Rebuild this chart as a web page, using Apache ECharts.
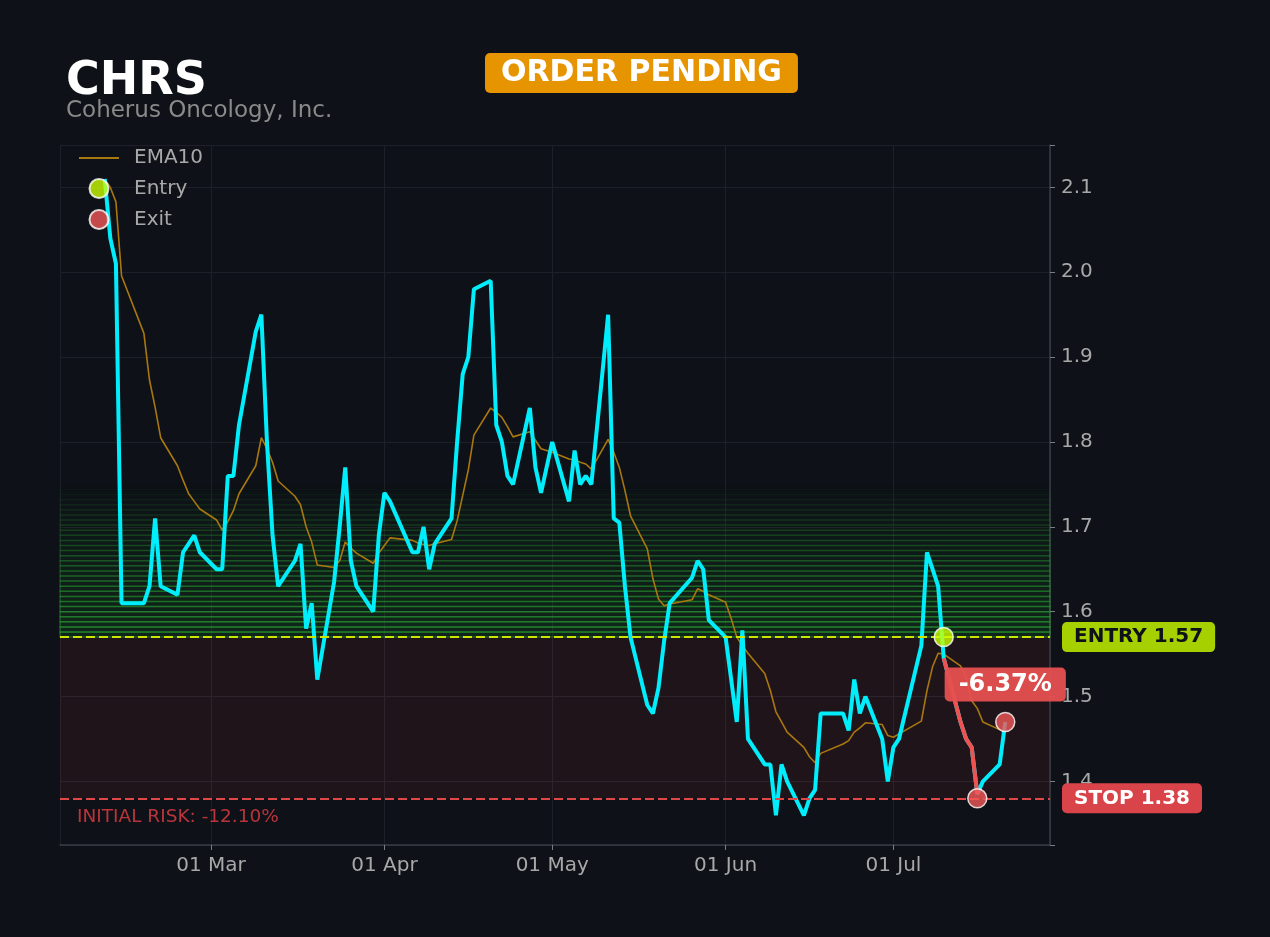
<!DOCTYPE html>
<html>
<head>
<meta charset="utf-8">
<script src="https://cdn.jsdelivr.net/npm/echarts@6/dist/echarts.min.js"></script>
<style>
    html, body { margin: 0; padding: 0; background: #0e1117; }
    #chart { width: 1270px; height: 937px; }
</style>
</head>
<body>
<div id="chart"></div>
<script>
// trading days (2026)
const dates = [
    '2026-02-10', '2026-02-11', '2026-02-12', '2026-02-13', '2026-02-17', '2026-02-18', '2026-02-19',
    '2026-02-20', '2026-02-23', '2026-02-24', '2026-02-25', '2026-02-26', '2026-02-27',
    '2026-03-02', '2026-03-03', '2026-03-04', '2026-03-05', '2026-03-06', '2026-03-09', '2026-03-10',
    '2026-03-11', '2026-03-12', '2026-03-13', '2026-03-16', '2026-03-17', '2026-03-18', '2026-03-19',
    '2026-03-20', '2026-03-23', '2026-03-24', '2026-03-25', '2026-03-26', '2026-03-27', '2026-03-30',
    '2026-03-31',
    '2026-04-01', '2026-04-02', '2026-04-06', '2026-04-07', '2026-04-08', '2026-04-09', '2026-04-10',
    '2026-04-13', '2026-04-14', '2026-04-15', '2026-04-16', '2026-04-17', '2026-04-20', '2026-04-21',
    '2026-04-22', '2026-04-23', '2026-04-24', '2026-04-27', '2026-04-28', '2026-04-29', '2026-04-30',
    '2026-05-01', '2026-05-04', '2026-05-05', '2026-05-06', '2026-05-07', '2026-05-08', '2026-05-11',
    '2026-05-12', '2026-05-13', '2026-05-14', '2026-05-15', '2026-05-18', '2026-05-19', '2026-05-20',
    '2026-05-21', '2026-05-22', '2026-05-26', '2026-05-27', '2026-05-28', '2026-05-29',
    '2026-06-01', '2026-06-02', '2026-06-03', '2026-06-04', '2026-06-05', '2026-06-08', '2026-06-09',
    '2026-06-10', '2026-06-11', '2026-06-12', '2026-06-15', '2026-06-16', '2026-06-17', '2026-06-18',
    '2026-06-22', '2026-06-23', '2026-06-24', '2026-06-25', '2026-06-26', '2026-06-29', '2026-06-30',
    '2026-07-01', '2026-07-02', '2026-07-06', '2026-07-07', '2026-07-08', '2026-07-09', '2026-07-10',
    '2026-07-13', '2026-07-14', '2026-07-15', '2026-07-16', '2026-07-17', '2026-07-20', '2026-07-21'
];

const closes = [
    2.11, 2.04, 2.01, 1.61, 1.61, 1.63, 1.71, 1.63, 1.62, 1.67, 1.68, 1.69, 1.67,
    1.65, 1.65, 1.76, 1.76, 1.82, 1.93, 1.95, 1.80, 1.69, 1.63, 1.66, 1.68, 1.58, 1.61,
    1.52, 1.635, 1.70, 1.77, 1.66, 1.63, 1.60, 1.69,
    1.74, 1.73, 1.67, 1.67, 1.70, 1.65, 1.68, 1.71, 1.80, 1.88, 1.90, 1.98, 1.99, 1.82,
    1.80, 1.76, 1.75, 1.84, 1.77, 1.74, 1.77,
    1.80, 1.73, 1.79, 1.75, 1.76, 1.75, 1.95, 1.71, 1.705, 1.63, 1.57, 1.49, 1.48, 1.51,
    1.565, 1.61, 1.64, 1.66, 1.65, 1.59,
    1.57, 1.52, 1.47, 1.578, 1.45, 1.42, 1.42, 1.36, 1.42, 1.40, 1.36, 1.38, 1.39, 1.48,
    1.48, 1.46, 1.52, 1.48, 1.50, 1.45, 1.40,
    1.44, 1.45, 1.56, 1.67, 1.65, 1.63, 1.545, 1.47, 1.45, 1.44, 1.385, 1.40, 1.42, 1.47
];

const ema10 = [
    2.11, 2.10, 2.083, 1.996, 1.928, 1.873, 1.841, 1.805, 1.772, 1.755, 1.739, 1.730, 1.721,
    1.708, 1.696, 1.706, 1.719, 1.739, 1.772, 1.805, 1.792, 1.776, 1.754, 1.736, 1.726, 1.700, 1.682,
    1.655, 1.652, 1.660, 1.682, 1.675, 1.669, 1.657, 1.669,
    1.678, 1.687, 1.684, 1.681, 1.679, 1.678, 1.680, 1.685, 1.707, 1.737, 1.767, 1.808, 1.840, 1.835,
    1.829, 1.818, 1.806, 1.812, 1.802, 1.792, 1.790,
    1.788, 1.780, 1.779, 1.776, 1.774, 1.768, 1.803, 1.788, 1.770, 1.743, 1.713, 1.674, 1.639, 1.615,
    1.607, 1.609, 1.614, 1.627, 1.624, 1.620,
    1.611, 1.592, 1.570, 1.560, 1.551, 1.527, 1.507, 1.482, 1.470, 1.458, 1.440, 1.429, 1.422, 1.433,
    1.444, 1.448, 1.458, 1.463, 1.469, 1.467, 1.454,
    1.452, 1.456, 1.471, 1.507, 1.535, 1.551, 1.550, 1.536, 1.523, 1.495, 1.486, 1.470, 1.461, 1.460
];

const entryDate = '2026-07-10';
const entryPrice = 1.57;
const stopPrice = 1.38;
const exitDates = ['2026-07-16', '2026-07-21'];
const exitPrices = [1.38, 1.47];

const monthNames = ['Jan', 'Feb', 'Mar', 'Apr', 'May', 'Jun', 'Jul', 'Aug', 'Sep', 'Oct', 'Nov', 'Dec'];

function pct(a, b) {
    return ((a / b - 1) * 100).toFixed(2) + '%';
}

const priceData = dates.map(function (d, i) { return [d, closes[i]]; });
const emaData = dates.map(function (d, i) { return [d, ema10[i]]; });
const tradeStart = dates.indexOf(entryDate);
const tradeEnd = dates.indexOf(exitDates[0]);
const tradeData = priceData.slice(tradeStart, tradeEnd + 1);
const lastExit = exitPrices[exitPrices.length - 1];

// faded green bands above the entry
const greenBands = [];
const bandCount = 30;
const bandStep = 0.006;
for (let i = 0; i < bandCount; i++) {
    const a = 0.3 * (1 - i / bandCount);
    greenBands.push([
        {
            yAxis: entryPrice + i * bandStep,
            itemStyle: {
                color: 'rgba(30, 135, 40, ' + (a * 0.6).toFixed(3) + ')',
                borderColor: 'rgba(45, 180, 55, ' + (a * 1.4).toFixed(3) + ')',
                borderWidth: 1.5
            }
        },
        { yAxis: entryPrice + (i + 1) * bandStep }
    ]);
}
const riskZone = [[
    { yAxis: stopPrice, itemStyle: { color: 'rgba(225, 60, 75, 0.09)' } },
    { yAxis: entryPrice }
]];

const chart = echarts.init(document.getElementById('chart'));

const options = {
    backgroundColor: '#0e1117',
    animation: false,
    textStyle: { fontFamily: 'DejaVu Sans' },
    title: [{
        text: 'CHRS',
        left: 66,
        top: 59,
        padding: 0,
        textStyle: { color: '#ffffff', fontSize: 46, fontWeight: 'bold', fontFamily: 'DejaVu Sans' }
    }, {
        text: 'Coherus Oncology, Inc.',
        left: 66,
        top: 100,
        padding: 0,
        textStyle: { color: '#8a8a8a', fontSize: 23, fontWeight: 'normal', fontFamily: 'DejaVu Sans' }
    }, {
        text: 'ORDER PENDING',
        left: 485,
        top: 53,
        padding: [5, 16],
        backgroundColor: '#e69500',
        borderRadius: 5,
        textStyle: { color: '#ffffff', fontSize: 30, fontWeight: 'bold', fontFamily: 'DejaVu Sans' }
    }],
    legend: {
        data: [
            { name: 'EMA10', itemStyle: { opacity: 0 } },
            'Entry',
            'Exit'
        ],
        orient: 'vertical',
        left: 78,
        top: 148,
        padding: 0,
        itemWidth: 40,
        itemHeight: 19,
        itemGap: 10,
        textStyle: { color: '#a8a8a8', fontSize: 20, padding: [0, 0, 0, 10] }
    },
    grid: { left: 60, right: 220, top: 145, bottom: 92, containLabel: false },
    xAxis: {
        type: 'time',
        min: '2026-02-02',
        max: '2026-07-29',
        splitNumber: 6,
        axisLine: { lineStyle: { color: '#3a3d44', width: 1.5 } },
        axisTick: { show: true, length: 5, lineStyle: { color: '#7a7d84' } },
        axisLabel: {
            color: '#a8a8a8',
            fontSize: 20,
            margin: 11,
            formatter: function (v) {
                const d = new Date(v);
                if (d.getDate() !== 1) return '';
                return '01 ' + monthNames[d.getMonth()];
            }
        },
        splitLine: { show: true, lineStyle: { color: '#1d2028', width: 1 } }
    },
    yAxis: {
        type: 'value',
        position: 'right',
        min: 1.325,
        max: 2.15,
        splitNumber: 8,
        scale: true,
        axisLine: { show: true, lineStyle: { color: '#3a3d44', width: 1.5 } },
        axisTick: { show: true, length: 5, lineStyle: { color: '#7a7d84' } },
        axisLabel: {
            color: '#a8a8a8',
            fontSize: 20,
            margin: 11,
            formatter: function (v) {
                if (Math.abs(v * 10 - Math.round(v * 10)) > 1e-6) return '';
                return v.toFixed(1);
            }
        },
        splitLine: { show: true, lineStyle: { color: '#1d2028', width: 1 } }
    },
    series: [{
        name: 'EMA10',
        type: 'line',
        data: emaData,
        symbol: 'none',
        z: 2,
        lineStyle: { color: '#a8780f', width: 1.6 },
        itemStyle: { color: '#a8780f' },
        markArea: {
            silent: true,
            data: riskZone.concat(greenBands)
        },
        markLine: {
            silent: true,
            symbol: ['none', 'none'],
            data: [{
                yAxis: entryPrice,
                lineStyle: { color: '#c8e600', type: [9, 4], width: 2.2 },
                label: {
                    show: true,
                    position: 'end',
                    distance: 12,
                    formatter: 'ENTRY ' + entryPrice.toFixed(2),
                    backgroundColor: '#a6d000',
                    color: '#0e1117',
                    fontWeight: 'bold',
                    fontSize: 20,
                    padding: [5, 12],
                    borderRadius: 5
                }
            }, {
                yAxis: stopPrice,
                lineStyle: { color: '#e04848', type: [9, 4], width: 2.2 },
                label: {
                    show: true,
                    position: 'end',
                    distance: 12,
                    formatter: 'STOP ' + stopPrice.toFixed(2),
                    backgroundColor: '#d9434a',
                    color: '#ffffff',
                    fontWeight: 'bold',
                    fontSize: 20,
                    padding: [5, 12],
                    borderRadius: 5
                }
            }, {
                yAxis: stopPrice,
                lineStyle: { color: 'rgba(0,0,0,0)', width: 0 },
                label: {
                    show: true,
                    position: 'insideStartBottom',
                    distance: [17, 9],
                    formatter: 'INITIAL RISK: ' + pct(stopPrice, entryPrice),
                    color: 'rgba(215, 60, 65, 0.85)',
                    fontSize: 18.5
                }
            }]
        }
    }, {
        name: 'Price',
        type: 'line',
        data: priceData,
        symbol: 'none',
        z: 3,
        lineStyle: { color: '#00eefc', width: 4 }
    }, {
        name: 'Trade',
        type: 'line',
        data: tradeData,
        symbol: 'none',
        z: 4,
        lineStyle: { color: '#f05252', width: 4 }
    }, {
        name: 'Entry',
        type: 'scatter',
        data: [[entryDate, entryPrice]],
        symbol: 'circle',
        symbolSize: 19,
        z: 5,
        itemStyle: { color: '#ccff00', borderColor: '#ffffff', borderWidth: 1.5 }
    }, {
        name: 'Exit',
        type: 'scatter',
        data: exitDates.map(function (d, i) { return [d, exitPrices[i]]; }),
        symbol: 'circle',
        symbolSize: 19,
        z: 5,
        itemStyle: { color: '#f25757', borderColor: '#ffffff', borderWidth: 1.5 },
        markPoint: {
            silent: true,
            symbol: 'circle',
            symbolSize: 0,
            data: [{
                coord: [exitDates[exitDates.length - 1], (entryPrice + lastExit) / 2],
                label: {
                    show: true,
                    position: 'inside',
                    offset: [0, 5],
                    formatter: pct(lastExit, entryPrice),
                    backgroundColor: 'rgba(230, 80, 80, 0.95)',
                    color: '#ffffff',
                    fontWeight: 'bold',
                    fontSize: 24,
                    padding: [5, 14],
                    borderRadius: 5
                }
            }]
        }
    }]
};

chart.setOption(options);
</script>
</body>
</html>
